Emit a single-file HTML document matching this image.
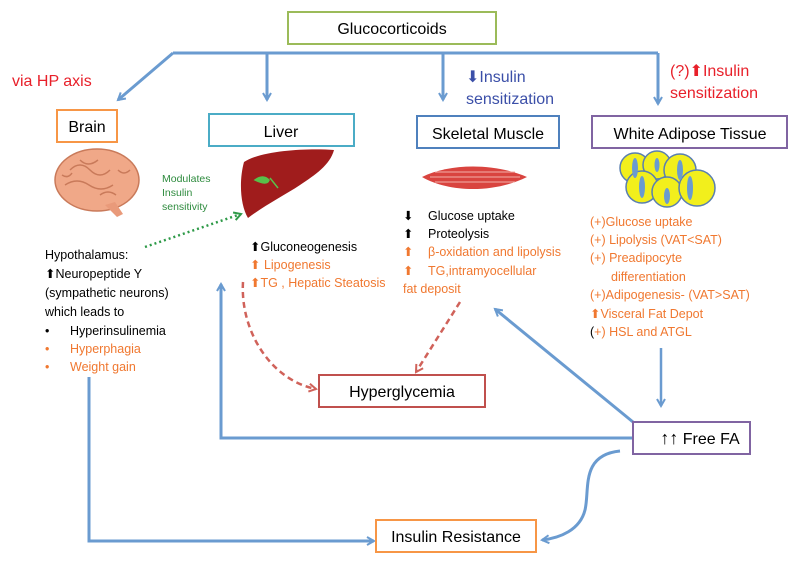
<!DOCTYPE html>
<html><head><meta charset="utf-8"><style>
body{margin:0;background:#fff}
svg{display:block;font-family:"Liberation Sans",sans-serif}
</style></head><body>
<svg width="800" height="566" viewBox="0 0 800 566" xmlns="http://www.w3.org/2000/svg">
<defs>
<marker id="ab" markerWidth="10" markerHeight="10" refX="8" refY="5" orient="auto" markerUnits="userSpaceOnUse"><path d="M1,1 L8,5 L1,9" fill="none" stroke="#6a9bd0" stroke-width="2"/></marker>
<marker id="ar" markerWidth="10" markerHeight="10" refX="8" refY="5" orient="auto" markerUnits="userSpaceOnUse"><path d="M1,1 L8,5 L1,9" fill="none" stroke="#d0625a" stroke-width="2"/></marker>
<marker id="ag" markerWidth="10" markerHeight="10" refX="8" refY="5" orient="auto" markerUnits="userSpaceOnUse"><path d="M1,1 L8,5 L1,9" fill="none" stroke="#2e9a48" stroke-width="2"/></marker>
</defs>
<g stroke="#6a9bd0" stroke-width="3" fill="none">
<path d="M173,53 L658,53"/>
<path d="M173,53 L118,100" marker-end="url(#ab)"/>
<path d="M267,53 L267,100" marker-end="url(#ab)"/>
<path d="M443,53 L443,100" marker-end="url(#ab)"/>
<path d="M658,53 L658,104" marker-end="url(#ab)"/>
<path d="M661,348 L661,406" marker-end="url(#ab)" stroke-width="2.5"/>
<path d="M633,438 L221,438 L221,284" marker-end="url(#ab)"/>
<path d="M633,422 L495,309" marker-end="url(#ab)"/>
<path d="M89,377 L89,541 L374,541" marker-end="url(#ab)"/>
<path d="M620,451 C580,455 590,490 585,510 C580,530 560,538 542,540" marker-end="url(#ab)"/>
</g>
<g stroke="#d0625a" stroke-width="2.5" fill="none" stroke-dasharray="6,4">
<path d="M243,282 C240,330 270,380 316,389" marker-end="url(#ar)"/>
<path d="M460,302 L416,372" marker-end="url(#ar)"/>
</g>
<path d="M145,247 L241,214" stroke="#2e9a48" stroke-width="2.5" stroke-dasharray="2,3" fill="none" marker-end="url(#ag)"/>
<g fill="#fff" stroke-width="2">
<rect x="288" y="12" width="208" height="32" stroke="#9bbb59"/>
<rect x="57" y="110" width="60" height="32" stroke="#f79646"/>
<rect x="209" y="114" width="145" height="32" stroke="#4bacc6"/>
<rect x="417" y="116" width="142" height="32" stroke="#4f81bd"/>
<rect x="592" y="116" width="195" height="32" stroke="#8064a2"/>
<rect x="319" y="375" width="166" height="32" stroke="#c0504d"/>
<rect x="633" y="422" width="117" height="32" stroke="#8064a2"/>
<rect x="376" y="520" width="160" height="32" stroke="#f79646"/>
</g>
<g font-size="16" fill="#000" text-anchor="middle">
<text x="392" y="34">Glucocorticoids</text>
<text x="87" y="132">Brain</text>
<text x="281" y="137">Liver</text>
<text x="488" y="139">Skeletal Muscle</text>
<text x="690" y="139">White Adipose Tissue</text>
<text x="402" y="397">Hyperglycemia</text>
<text x="700" y="444"><tspan font-weight="bold" font-size="18">↑↑</tspan> Free FA</text>
<text x="456" y="542">Insulin Resistance</text>
</g>
<text x="12" y="86" font-size="16" fill="#e8202a">via HP axis</text>
<text x="466" y="82" font-size="16" fill="#3b4fa8">⬇Insulin</text>
<text x="466" y="104" font-size="16" fill="#3b4fa8">sensitization</text>
<text x="670" y="76" font-size="16" fill="#e8202a">(?)⬆Insulin</text>
<text x="670" y="98" font-size="16" fill="#e8202a">sensitization</text>
<g font-size="10.5" fill="#2e8b3e"><text x="162" y="182">Modulates</text><text x="162" y="196">Insulin</text><text x="162" y="210">sensitivity</text></g>
<g><ellipse cx="97" cy="180" rx="42" ry="31" fill="#f0a888" stroke="#c97a5a" stroke-width="1.5"/>
<path d="M70,170 q10,-10 20,0 t20,0 M65,185 q12,-8 24,0 t24,0 M80,160 q8,8 18,0 M100,195 q8,-6 16,0 M62,175 q6,4 10,-2 M118,170 q6,6 12,0" stroke="#c97a5a" fill="none" stroke-width="1.5"/>
<path d="M105,205 l12,12 l6,-3 l-8,-12z" fill="#e99a7a"/></g>
<path d="M244,162 C262,150 310,148 334,150 C330,165 315,175 300,185 C285,195 265,205 248,218 C240,205 239,180 244,162z" fill="#a01c1c"/>
<path d="M255,180 q8,-6 14,0 q-2,6 -14,0z M270,178 l8,10" fill="#58c04a" stroke="#58c04a" stroke-width="1.5"/>
<path d="M422,177 C450,163 495,163 527,177 C495,193 450,193 422,177z" fill="#d9443f"/>
<path d="M430,177 H520 M435,172 H515 M435,182 H515" stroke="#f2b0a8" stroke-width="1"/>
<g fill="#f2ef1c" stroke="#5a7fb0" stroke-width="1.5">
<circle cx="635" cy="168" r="15"/><circle cx="657" cy="165" r="14"/><circle cx="680" cy="170" r="16"/>
<circle cx="642" cy="187" r="16"/><circle cx="667" cy="192" r="15"/><circle cx="697" cy="188" r="18"/>
</g>
<g fill="#6a9bd0"><ellipse cx="635" cy="168" rx="3" ry="10"/><ellipse cx="657" cy="165" rx="2.5" ry="7"/><ellipse cx="680" cy="170" rx="3" ry="10"/><ellipse cx="642" cy="187" rx="3" ry="11"/><ellipse cx="667" cy="196" rx="3" ry="8"/><ellipse cx="690" cy="188" rx="3" ry="12"/></g>
<g font-size="12.5">
<text x="45" y="259">Hypothalamus:</text>
<text x="45" y="278">⬆Neuropeptide Y</text>
<text x="45" y="297">(sympathetic neurons)</text>
<text x="45" y="316">which leads to</text>
<text x="45" y="335">•</text><text x="70" y="335">Hyperinsulinemia</text>
<text x="45" y="353" fill="#f07830">•</text><text x="70" y="353" fill="#f07830">Hyperphagia</text>
<text x="45" y="371" fill="#f07830">•</text><text x="70" y="371" fill="#f07830">Weight gain</text>
<text x="250" y="251">⬆Gluconeogenesis</text>
<text x="250" y="269" fill="#f07830">⬆ Lipogenesis</text>
<text x="250" y="287" fill="#f07830">⬆TG , Hepatic Steatosis</text>
<text x="403" y="220">⬇</text><text x="428" y="220">Glucose uptake</text>
<text x="403" y="238">⬆</text><text x="428" y="238">Proteolysis</text>
<g fill="#f07830"><text x="403" y="256">⬆</text><text x="428" y="256">β-oxidation and lipolysis</text>
<text x="403" y="275">⬆</text><text x="428" y="275">TG,intramyocellular</text>
<text x="403" y="293">fat deposit</text>
<text x="590" y="226">(+)Glucose uptake</text>
<text x="590" y="244">(+) Lipolysis (VAT&lt;SAT)</text>
<text x="590" y="262">(+) Preadipocyte</text>
<text x="611" y="281">differentiation</text>
<text x="590" y="299">(+)Adipogenesis- (VAT&gt;SAT)</text>
<text x="590" y="318">⬆Visceral Fat Depot</text>
<text x="590" y="336"><tspan fill="#000">(</tspan>+) HSL and ATGL</text></g>
</g>
</svg>
</body></html>
